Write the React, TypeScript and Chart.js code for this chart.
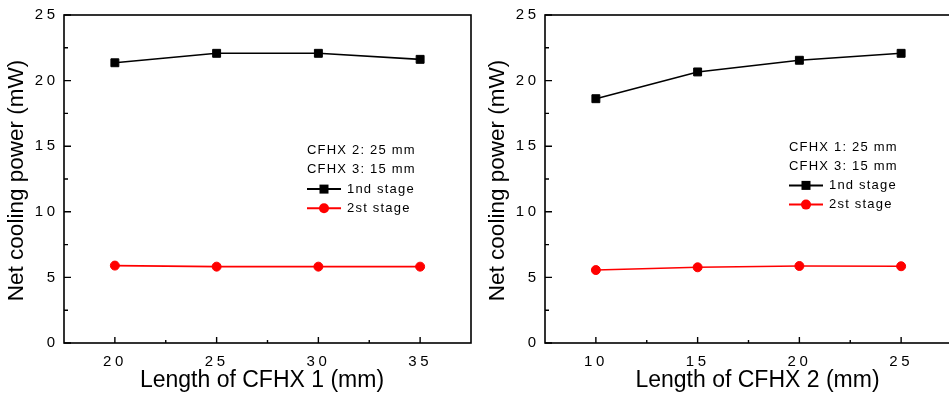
import React, { useEffect, useRef } from 'react';
import { Chart, registerables } from 'chart.js';

Chart.register(...registerables);

// ---- data ----
const cfhx1Lengths = [20, 25, 30, 35];
const stage1ByCfhx1 = [21.36, 22.08, 22.08, 21.62];
const stage2ByCfhx1 = [5.9, 5.82, 5.82, 5.82];

const cfhx2Lengths = [10, 15, 20, 25];
const stage1ByCfhx2 = [18.62, 20.66, 21.55, 22.08];
const stage2ByCfhx2 = [5.56, 5.77, 5.87, 5.85];

const seriesLabels = ['1nd stage', '2st stage'];
const notesLeft = ['CFHX 2: 25 mm', 'CFHX 3: 15 mm'];
const notesRight = ['CFHX 1: 25 mm', 'CFHX 3: 15 mm'];
const xTitleLeft = 'Length of CFHX 1 (mm)';
const xTitleRight = 'Length of CFHX 2 (mm)';
const yTitle = 'Net cooling power (mW)';
const xRangeLeft = [17.5, 37.5];
const xRangeRight = [7.5, 27.5];
const yRange = [0, 25];
const tickStep = 5;

const FONT = '"Liberation Sans", Arial, Helvetica, sans-serif';

const framePlugin = {
  id: 'frame',
  beforeDraw(chart: any) {
    chart.ctx.letterSpacing = '3.5px';
  },
  afterDraw(chart: any, _args: any, opts: any) {
    const { ctx, chartArea: a, scales } = chart;
    ctx.save();
    ctx.letterSpacing = '0px';
    ctx.strokeStyle = '#000';
    ctx.lineWidth = 1.6;
    ctx.strokeRect(a.left, a.top, a.right - a.left, a.bottom - a.top);

    // inward ticks
    const xs = scales.x;
    const ys = scales.y;
    ctx.lineWidth = 1.4;
    ctx.beginPath();
    const xTicks = xs.ticks.map((t: any) => t.value);
    for (const v of xTicks) {
      const px = xs.getPixelForValue(v);
      ctx.moveTo(px, a.bottom);
      ctx.lineTo(px, a.bottom - 6);
      for (const m of [v - tickStep / 2, v + tickStep / 2]) {
        if (m > xs.min && m < xs.max) {
          const mx = xs.getPixelForValue(m);
          ctx.moveTo(mx, a.bottom);
          ctx.lineTo(mx, a.bottom - 3);
        }
      }
    }
    const yTicks = ys.ticks.map((t: any) => t.value);
    for (const v of yTicks) {
      const py = ys.getPixelForValue(v);
      ctx.moveTo(a.left, py);
      ctx.lineTo(a.left + 7, py);
      const m = v + tickStep / 2;
      if (m > ys.min && m < ys.max) {
        const my = ys.getPixelForValue(m);
        ctx.moveTo(a.left, my);
        ctx.lineTo(a.left + 4, my);
      }
    }
    ctx.stroke();

    // axis titles
    ctx.fillStyle = '#000';
    ctx.textBaseline = 'middle';
    ctx.textAlign = 'center';
    ctx.font = `23px ${FONT}`;
    ctx.fillText(opts.xTitle, opts.xTitleX, opts.xTitleY);
    ctx.save();
    ctx.translate(opts.yTitleX, opts.yTitleY);
    ctx.rotate(-Math.PI / 2);
    ctx.font = `22.5px ${FONT}`;
    ctx.fillText(opts.yTitle, 0, 0);
    ctx.restore();

    // legend with notes
    ctx.letterSpacing = '1.2px';
    ctx.font = `13px ${FONT}`;
    ctx.textAlign = 'left';
    let y = opts.legendY;
    const lx = opts.legendX;
    for (const note of opts.notes) {
      ctx.fillText(note, lx, y);
      y += opts.legendGap;
    }
    chart.data.datasets.forEach((ds: any) => {
      ctx.strokeStyle = ds.borderColor;
      ctx.fillStyle = ds.backgroundColor;
      ctx.lineWidth = 2;
      ctx.beginPath();
      ctx.moveTo(lx, y);
      ctx.lineTo(lx + 34, y);
      ctx.stroke();
      const cx = lx + 17;
      if (ds.pointStyle === 'rect') {
        ctx.fillRect(cx - 4.5, y - 4.5, 9, 9);
      } else {
        ctx.beginPath();
        ctx.arc(cx, y, 5, 0, Math.PI * 2);
        ctx.fill();
      }
      ctx.fillStyle = '#000';
      ctx.fillText(ds.label, lx + 40, y);
      y += opts.legendGap;
    });
    ctx.restore();
  },
};

type PanelProps = {
  xValues: number[];
  s1: number[];
  s2: number[];
  xRange: number[];
  notes: string[];
  xTitle: string;
  xTitleX: number;
  legendX: number;
  legendY: number;
};

function Panel(p: PanelProps) {
  const ref = useRef<HTMLCanvasElement>(null);
  useEffect(() => {
    if (!ref.current) return;
    const tickFont = { family: FONT, size: 15 };
    const chart = new Chart(ref.current, {
      type: 'line',
      data: {
        datasets: [
          {
            label: seriesLabels[0],
            data: p.xValues.map((x, i) => ({ x, y: p.s1[i] })),
            borderColor: '#000000',
            backgroundColor: '#000000',
            borderWidth: 1.6,
            pointStyle: 'rect',
            pointRadius: 5.6,
            pointBorderWidth: 1,
          },
          {
            label: seriesLabels[1],
            data: p.xValues.map((x, i) => ({ x, y: p.s2[i] })),
            borderColor: '#ff0000',
            backgroundColor: '#ff0000',
            borderWidth: 1.6,
            pointStyle: 'circle',
            pointRadius: 4.5,
            pointBorderWidth: 1,
          },
        ],
      },
      options: {
        animation: false,
        responsive: false,
        layout: { padding: { top: 15, right: 9, left: 0, bottom: 0 } },
        plugins: {
          legend: { display: false },
          tooltip: { enabled: false },
          frame: {
            xTitle: p.xTitle,
            xTitleX: p.xTitleX,
            xTitleY: 381,
            yTitle,
            yTitleX: 17,
            yTitleY: 180.5,
            notes: p.notes,
            legendX: p.legendX,
            legendY: p.legendY,
            legendGap: 19.2,
          },
        } as any,
        scales: {
          x: {
            type: 'linear',
            min: p.xRange[0],
            max: p.xRange[1],
            afterBuildTicks: (s: any) => {
              s.ticks = p.xValues.map((value) => ({ value }));
            },
            afterFit: (s: any) => {
              s.height = 52;
            },
            grid: { display: false, drawTicks: false },
            border: { display: false },
            ticks: {
              color: '#000',
              font: tickFont,
              padding: 10,
              maxRotation: 0,
              autoSkip: false,
            },
          },
          y: {
            type: 'linear',
            min: yRange[0],
            max: yRange[1],
            afterFit: (s: any) => {
              s.width = 64;
            },
            grid: { display: false, drawTicks: false },
            border: { display: false },
            ticks: {
              stepSize: tickStep,
              color: '#000',
              font: tickFont,
              padding: 5.5,
            },
          },
        },
      } as any,
      plugins: [framePlugin],
    });
    return () => chart.destroy();
  }, []);
  return <canvas ref={ref} width={480} height={395} style={{ display: 'block' }} />;
}

export default function App() {
  return (
    <div
      style={{
        position: 'absolute',
        left: 0,
        top: 0,
        width: 949,
        height: 395,
        overflow: 'hidden',
        background: '#fff',
      }}
    >
      <div style={{ position: 'absolute', left: 0, top: 0 }}>
        <Panel
          xValues={cfhx1Lengths}
          s1={stage1ByCfhx1}
          s2={stage2ByCfhx1}
          xRange={xRangeLeft}
          notes={notesLeft}
          xTitle={xTitleLeft}
          xTitleX={262}
          legendX={307}
          legendY={150.7}
        />
      </div>
      <div style={{ position: 'absolute', left: 481, top: 0 }}>
        <Panel
          xValues={cfhx2Lengths}
          s1={stage1ByCfhx2}
          s2={stage2ByCfhx2}
          xRange={xRangeRight}
          notes={notesRight}
          xTitle={xTitleRight}
          xTitleX={276.5}
          legendX={308}
          legendY={147}
        />
      </div>
    </div>
  );
}
